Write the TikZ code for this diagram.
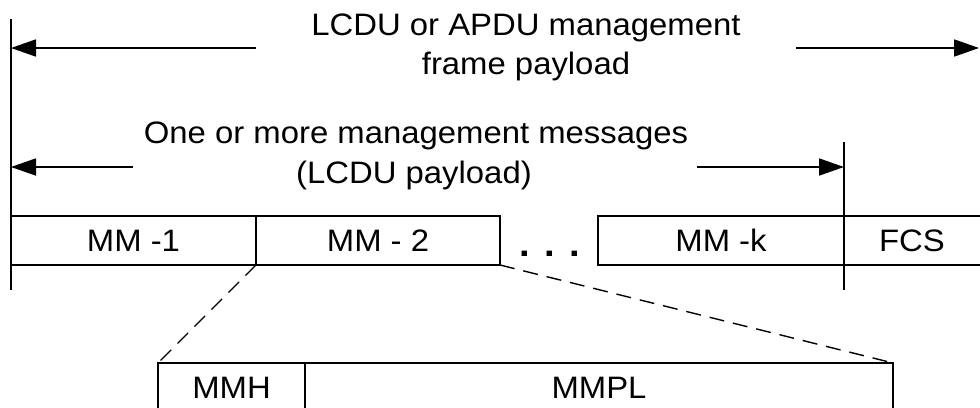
\documentclass[tikz,border=0pt]{standalone}
\usepackage{fontspec}
\setmainfont{Liberation Sans}[FakeStretch=1.06]
\usetikzlibrary{arrows.meta}
\begin{document}
\begin{tikzpicture}[x=1pt,y=-1pt,
  ln/.style={line width=1.8pt},
  arr/.style={ln,-{Triangle[length=25pt,width=17pt]}},
  fld/.style={rectangle,minimum height=49pt,inner sep=0pt,outer sep=0pt,font=\fontsize{31}{37}\selectfont,anchor=north west},
  lbl/.style={font=\fontsize{31}{37}\selectfont,inner sep=0pt,anchor=base},
  dsh/.style={line width=1.4pt,dash pattern=on 15pt off 9pt}]
\useasboundingbox (0,0) rectangle (980,407);
% vertical limits
\coordinate (vLt) at (11,19);
\coordinate (vLb) at (11,290);
\coordinate (vRt) at (844,142);
\coordinate (vRb) at (844,290);
\draw[ln] (vLt) -- (vLb);
\draw[ln] (vRt) -- (vRb);
% top label and arrows
\node[lbl] (top1) at (526,35) {LCDU or APDU management};
\node[lbl] (top2) at (526,74) {frame payload};
\coordinate (a1l) at (256,48);
\coordinate (a1L) at (11,48);
\coordinate (a1r) at (796,48);
\coordinate (a1R) at (979,48);
\draw[arr] (a1l) -- (a1L);
\draw[arr] (a1r) -- (a1R);
% second label and arrows
\node[lbl] (mid1) at (416,143) {One or more management messages};
\node[lbl] (mid2) at (414,183) {(LCDU payload)};
\coordinate (a2l) at (133,167);
\coordinate (a2L) at (11,167);
\coordinate (a2r) at (697,167);
\coordinate (a2R) at (844,167);
\draw[arr] (a2l) -- (a2L);
\draw[arr] (a2r) -- (a2R);
% fields
\node[fld,minimum width=245pt] (mm1) at (11,216) {MM -1};
\node[fld,minimum width=244pt] (mm2) at (256,216) {MM - 2};
\node[font=\fontsize{36}{40}\selectfont\bfseries,inner sep=0pt,anchor=base] (dots) at (550,256) {. . .};
\node[fld,minimum width=246pt] (mmk) at (598,216) {MM -k};
\node[fld,minimum width=136pt] (fcs) at (844,216) {FCS};
\draw[ln] (mm1.north west) rectangle (mm1.south east);
\draw[ln] (mm2.north west) rectangle (mm2.south east);
\draw[ln] (mmk.north west) rectangle (mmk.south east);
\draw[ln] (fcs.north west) -- (fcs.north east);
\draw[ln] (fcs.south west) -- (fcs.south east);
% expanded field
\node[fld,minimum width=147pt] (mmh) at (158,363) {MMH};
\node[fld,minimum width=588pt] (mmpl) at (305,363) {MMPL};
\draw[ln] (mmh.south west) -- (mmh.north west) -- (mmpl.north east) -- (mmpl.south east);
\draw[ln] (mmh.north east) -- (mmh.south east);
% zoom lines
\draw[dsh] (mm2.south west) -- (mmh.north west);
\draw[dsh] (mm2.south east) -- (mmpl.north east);
\end{tikzpicture}
\end{document}
